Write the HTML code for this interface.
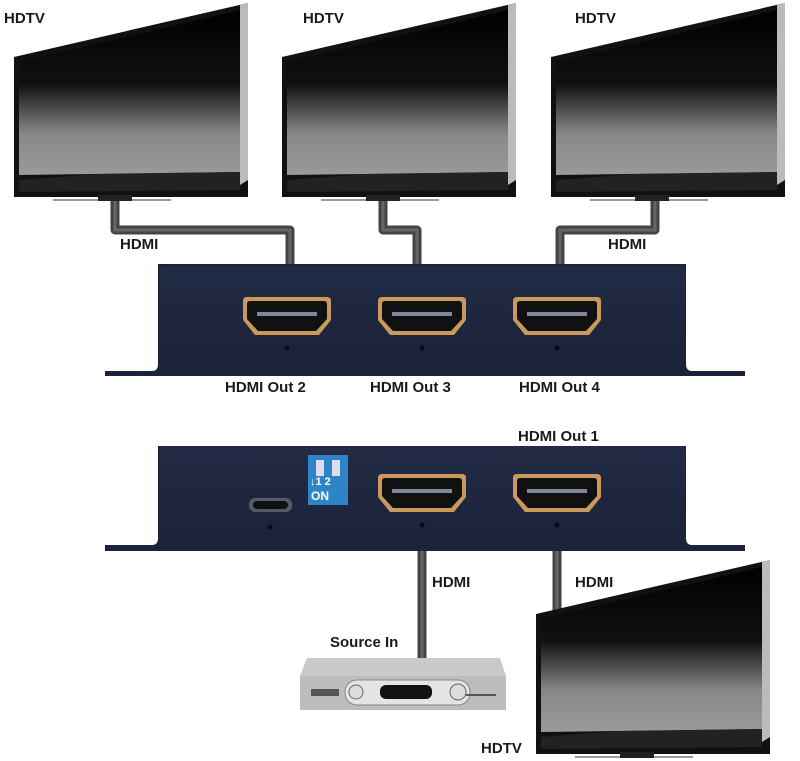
<!DOCTYPE html>
<html><head><meta charset="utf-8"><style>
html,body{margin:0;padding:0;background:#fff}
svg{display:block}
text{font-family:"Liberation Sans",sans-serif;font-weight:bold;fill:#1a1a1a}
</style></head><body>
<svg width="800" height="761" viewBox="0 0 800 761" xmlns="http://www.w3.org/2000/svg">
<defs>
<linearGradient id="scr" x1="0" y1="0" x2="0" y2="1">
<stop offset="0" stop-color="#000"/><stop offset="0.45" stop-color="#111"/><stop offset="0.75" stop-color="#888"/><stop offset="1" stop-color="#9a9a9a"/>
</linearGradient>
<linearGradient id="box" x1="0" y1="0" x2="0" y2="1">
<stop offset="0" stop-color="#222b45"/><stop offset="1" stop-color="#1b2239"/>
</linearGradient>
<g id="tv">
<polygon points="14,57 248,3 248,197 14,197" fill="#111"/>
<polygon points="240,5 248,3 248,180 240,185" fill="#bbb"/>
<polygon points="19,62 240,10 240,172 19,175" fill="url(#scr)"/>
<polygon points="19,180 100,174 240,172 240,190 19,192" fill="#222"/>
<rect x="53" y="199" width="118" height="2" fill="#999"/>
<rect x="98" y="195" width="34" height="6" fill="#222"/>
</g>
<g id="port">
<path d="M-40,-21 L40,-21 Q44,-21 44,-17 L44,2 L32,17 L-32,17 L-44,2 L-44,-17 Q-44,-21 -40,-21 Z" fill="#c99a5c"/>
<path d="M-37,-17 L37,-17 Q40,-17 40,-14 L40,1 L29,13 L-29,13 L-40,1 L-40,-14 Q-40,-17 -37,-17 Z" fill="#111"/>
<rect x="-30" y="-6" width="60" height="4" fill="#8088a0"/>
<circle cx="0" cy="30" r="2.5" fill="#0a0c12"/>
</g>
</defs>

<!-- cables -->
<g fill="none" stroke="#444" stroke-width="9" stroke-linejoin="round">
<path d="M115,198 V230 H290 V268"/>
<path d="M383,198 V230 H417 V268"/>
<path d="M655,198 V230 H560 V268"/>
<path d="M422,545 V660"/>
<path d="M557,545 V620"/>
</g>
<g fill="none" stroke="#666" stroke-width="3">
<path d="M115,198 V230 H290 V268"/>
<path d="M383,198 V230 H417 V268"/>
<path d="M655,198 V230 H560 V268"/>
<path d="M422,545 V660"/>
<path d="M557,545 V620"/>
</g>

<use href="#tv"/>
<use href="#tv" transform="translate(268,0)"/>
<use href="#tv" transform="translate(537,0)"/>
<use href="#tv" transform="translate(522,557)"/>

<!-- top box -->
<path d="M105,371 H152 Q158,371 158,364 V264 H686 V364 Q686,371 692,371 H745 V376 H105 Z" fill="#1b2239"/>
<rect x="160" y="266" width="526" height="104" rx="4" fill="url(#box)"/>
<use href="#port" transform="translate(287,318)"/>
<use href="#port" transform="translate(422,318)"/>
<use href="#port" transform="translate(557,318)"/>

<!-- bottom box -->
<path d="M105,545 H152 Q158,545 158,538 V446 H686 V538 Q686,545 692,545 H745 V551 H105 Z" fill="#1b2239"/>
<rect x="160" y="446" width="526" height="104" rx="4" fill="url(#box)"/>
<rect x="308" y="455" width="40" height="50" fill="#2f84c8"/>
<rect x="316" y="460" width="8" height="16" fill="#dde"/>
<rect x="332" y="460" width="8" height="16" fill="#dde"/>
<text x="310" y="485" font-size="11" style="fill:#fff">↓1 2</text>
<text x="311" y="500" font-size="12" style="fill:#fff">ON</text>
<rect x="249" y="498" width="43" height="14" rx="6" fill="#555a66"/>
<rect x="253" y="501" width="35" height="8" rx="4" fill="#111"/>
<circle cx="270" cy="527" r="2.5" fill="#0a0c12"/>
<use href="#port" transform="translate(422,495)"/>
<use href="#port" transform="translate(557,495)"/>

<!-- set top box -->
<path d="M307,658 H500 L506,676 V710 H300 V676 Z" fill="#c9c9c9"/>
<rect x="300" y="676" width="206" height="34" fill="#bdbdbd"/>
<rect x="345" y="680" width="125" height="25" rx="12" fill="#e4e4e4" stroke="#888"/>
<rect x="380" y="685" width="52" height="14" rx="6" fill="#111"/>
<circle cx="356" cy="692" r="7" fill="#ddd" stroke="#666"/>
<circle cx="458" cy="692" r="8" fill="#ddd" stroke="#666"/>
<rect x="311" y="689" width="28" height="7" fill="#555"/>
<line x1="466" y1="695" x2="496" y2="695" stroke="#333" stroke-width="1.5"/>

<!-- labels -->
<g font-size="15">
<text x="4" y="23">HDTV</text>
<text x="303" y="23">HDTV</text>
<text x="575" y="23">HDTV</text>
<text x="120" y="249">HDMI</text>
<text x="608" y="249">HDMI</text>
<text x="225" y="392">HDMI Out 2</text>
<text x="370" y="392">HDMI Out 3</text>
<text x="519" y="392">HDMI Out 4</text>
<text x="518" y="441">HDMI Out 1</text>
<text x="432" y="587">HDMI</text>
<text x="575" y="587">HDMI</text>
<text x="330" y="647">Source In</text>
<text x="481" y="753">HDTV</text>
</g>
</svg>
</body></html>
